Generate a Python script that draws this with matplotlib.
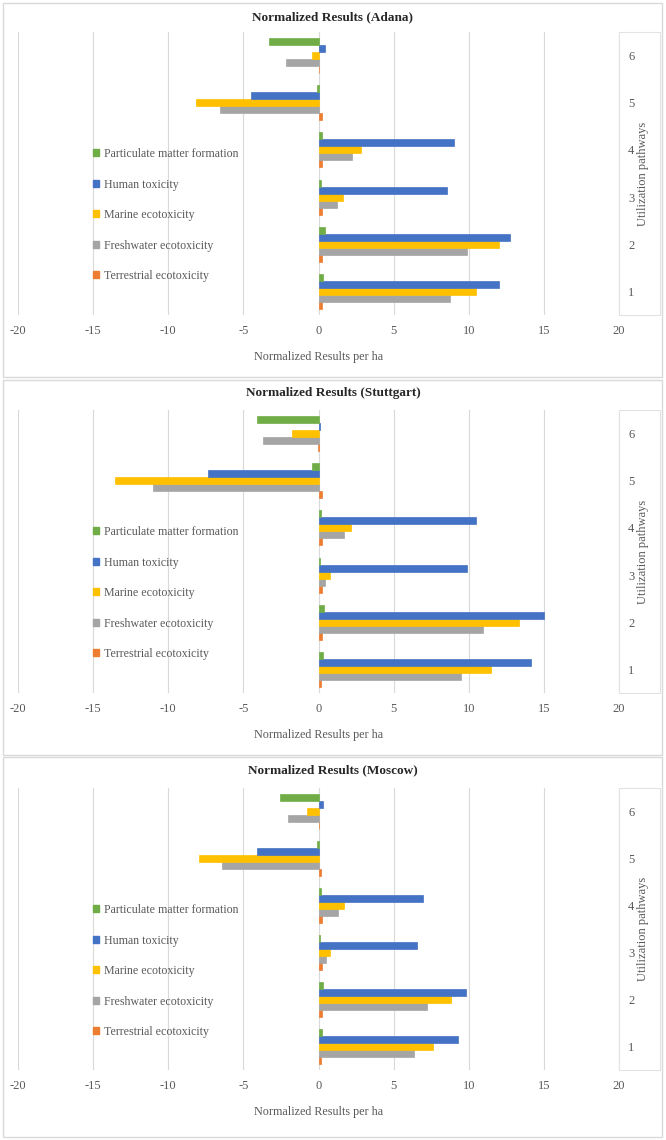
import numpy as np
import matplotlib
matplotlib.use('Agg')
from matplotlib import pyplot as plt
from matplotlib.patches import Rectangle, Patch

plt.rcParams['font.family'] = ['Liberation Serif', 'DejaVu Serif']

pathways = ['1', '2', '3', '4', '5', '6']
series = ['Terrestrial ecotoxicity', 'Freshwater ecotoxicity', 'Marine ecotoxicity',
          'Human toxicity', 'Particulate matter formation']
colors = ['#ED7D31', '#A5A5A5', '#FFC000', '#4472C4', '#70AD47']
xticks = [-20, -15, -10, -5, 0, 5, 10, 15, 20]

# values per pathway 1..6
adana_terrestrial = [0.20, 0.22, 0.24, 0.22, 0.20, 0.02]
adana_freshwater = [8.73, 9.89, 1.22, 2.24, -6.58, -2.13]
adana_marine = [10.47, 12.04, 1.64, 2.80, -8.18, -0.40]
adana_human = [12.04, 12.73, 8.56, 9.04, -4.49, 0.44]
adana_pm = [0.31, 0.40, 0.18, 0.20, -0.09, -3.27]

stuttgart_terrestrial = [0.18, 0.22, 0.24, 0.24, 0.20, -0.05]
stuttgart_freshwater = [9.51, 10.96, 0.42, 1.67, -11.03, -3.67]
stuttgart_marine = [11.47, 13.36, 0.76, 2.13, -13.57, -1.76]
stuttgart_human = [14.13, 15.02, 9.91, 10.51, -7.33, 0.09]
stuttgart_pm = [0.29, 0.36, 0.13, 0.16, -0.40, -4.09]

moscow_terrestrial = [0.18, 0.20, 0.22, 0.22, 0.18, 0.02]
moscow_freshwater = [6.33, 7.24, 0.53, 1.33, -6.44, -2.04]
moscow_marine = [7.60, 8.82, 0.78, 1.67, -7.93, -0.78]
moscow_human = [9.27, 9.82, 6.58, 6.96, -4.07, 0.31]
moscow_pm = [0.22, 0.29, 0.13, 0.16, -0.11, -2.53]

panels = [
    ('Normalized Results (Adana)',
     [adana_terrestrial, adana_freshwater, adana_marine, adana_human, adana_pm]),
    ('Normalized Results (Stuttgart)',
     [stuttgart_terrestrial, stuttgart_freshwater, stuttgart_marine, stuttgart_human, stuttgart_pm]),
    ('Normalized Results (Moscow)',
     [moscow_terrestrial, moscow_freshwater, moscow_marine, moscow_human, moscow_pm]),
]

W, H = 666, 1140
fig = plt.figure(figsize=(W / 100, H / 100), dpi=100)

# pixel layout: (border top, border bottom, plot top, plot bottom, title y)
layout = [(3, 377, 32, 315, 17), (380, 755, 410, 693, 393), (757, 1137, 788, 1070, 770)]
plot_l, plot_r = 18, 619
text_col = '#595959'

for (title, vals), (bt, bb, pt, pb, ty) in zip(panels, layout):
    fig.patches.append(Rectangle((3 / W, 1 - bb / H), 659 / W, (bb - bt) / H,
                                 transform=fig.transFigure, fill=False,
                                 edgecolor='#D9D9D9', linewidth=1))
    fig.patches.append(Rectangle((plot_r / W, 1 - pb / H), 41 / W, (pb - pt) / H,
                                 transform=fig.transFigure, fill=False,
                                 edgecolor='#E3E3E3', linewidth=0.8))
    fig.text(0.5, 1 - ty / H, title, ha='center', va='center', fontsize=9.5,
             fontweight='bold', color='#262626')
    fig.text(643 / W, 1 - (pt + pb) / 2 / H, 'Utilization pathways', rotation=90,
             ha='center', va='center', fontsize=9, color=text_col)

    ax = fig.add_axes([plot_l / W, 1 - pb / H, (plot_r - plot_l) / W, (pb - pt) / H])
    y = np.arange(1, len(pathways) + 1)
    h = 0.148
    for i, (v, c) in enumerate(zip(vals, colors)):
        ax.barh(y + (i - 2) * h, v, height=h, color=c, edgecolor=c, linewidth=0.5, zorder=3)

    ax.set_xlim(-20, 20)
    ax.set_ylim(0.5, 6.5)
    ax.set_xticks(xticks)
    ax.set_xticklabels([str(t) for t in xticks])
    ax.grid(axis='x', color='#D9D9D9', linewidth=0.8, zorder=0)
    ax.set_yticks(y)
    ax.set_yticklabels(pathways)
    ax.yaxis.tick_right()
    ax.tick_params(axis='both', length=0, labelsize=9, labelcolor=text_col)
    ax.tick_params(axis='x', pad=7)
    ax.tick_params(axis='y', pad=6.5)
    ax.set_xlabel('Normalized Results per ha', fontsize=8.7, color=text_col, labelpad=10)
    for s in ax.spines.values():
        s.set_visible(False)

    handles = [Patch(facecolor=c, edgecolor=c) for c in colors][::-1]
    leg = ax.legend(handles, series[::-1], loc='upper left',
                    bbox_to_anchor=(93 / W, 1 - (pt + 116) / H),
                    bbox_transform=fig.transFigure, frameon=False, fontsize=8.6,
                    handlelength=0.5, handleheight=0.5, handletextpad=0.4,
                    labelspacing=1.55, borderpad=0, borderaxespad=0)
    for t in leg.get_texts():
        t.set_color(text_col)

fig.savefig('out.png', dpi=100)
